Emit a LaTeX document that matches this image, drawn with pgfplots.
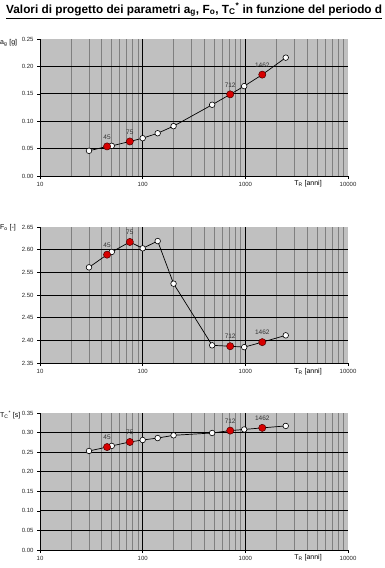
\documentclass[border=0pt]{standalone}
\usepackage{fontspec}
\setmainfont{Liberation Sans}
\usepackage{pgfplots}
\usepackage{pgfplotstable}
\pgfplotsset{compat=1.18}

\definecolor{bgc}{RGB}{192,192,192}
\definecolor{mgrid}{RGB}{128,128,128}
\definecolor{redfill}{RGB}{215,0,0}

\pgfplotstableread{
x y
30 0.046
45 0.054
50 0.055
75 0.063
100 0.069
140 0.078
200 0.091
475 0.130
712 0.149
975 0.164
1462 0.185
2475 0.216
}\agall
\pgfplotstableread{
x y
30 0.046
50 0.055
100 0.069
140 0.078
200 0.091
475 0.130
975 0.164
2475 0.216
}\agwhite
\pgfplotstableread{
x y lab
45 0.054 45
75 0.063 75
712 0.149 712
1462 0.185 1462
}\agred

\pgfplotstableread{
x y
30 2.561
45 2.589
50 2.595
75 2.617
100 2.603
140 2.619
200 2.525
475 2.389
712 2.387
975 2.385
1462 2.396
2475 2.411
}\foall
\pgfplotstableread{
x y
30 2.561
50 2.595
100 2.603
140 2.619
200 2.525
475 2.389
975 2.385
2475 2.411
}\fowhite
\pgfplotstableread{
x y lab
45 2.589 45
75 2.617 75
712 2.387 712
1462 2.396 1462
}\fored

\pgfplotstableread{
x y
30 0.253
45 0.263
50 0.266
75 0.276
100 0.281
140 0.286
200 0.293
475 0.299
712 0.305
975 0.308
1462 0.312
2475 0.317
}\tcall
\pgfplotstableread{
x y
30 0.253
50 0.266
100 0.281
140 0.286
200 0.293
475 0.299
975 0.308
2475 0.317
}\tcwhite
\pgfplotstableread{
x y lab
45 0.263 45
75 0.276 75
712 0.305 712
1462 0.312 1462
}\tcred

\pgfplotsset{
  every axis/.append style={
    scale only axis, width=308pt, height=137pt,
    xmin=10, xmax=10000,
    axis background/.style={fill=bgc},
    axis x line*=bottom, axis y line*=left,
    axis line style={black, line width=0.8pt},
    xtick={10,100,1000}, xticklabels={10,100,1000},
    minor xtick={20,30,40,50,60,70,80,90,200,300,400,500,600,700,800,900,2000,3000,4000,5000,6000,7000,8000,9000},
    grid=both,
    major grid style={black, line width=0.9pt},
    minor grid style={mgrid, line width=0.8pt},
    tick align=outside, major tick length=3pt, minor tick length=0pt,
    tick style={black, line width=0.6pt},
    ticklabel style={font=\fontsize{6}{7}\selectfont, text=black!85},
    yticklabel style={/pgf/number format/fixed, /pgf/number format/fixed zerofill, /pgf/number format/precision=2, /pgf/number format/assume math mode=true},
    clip=false,
  },
  lineplotsty/.style={black, line width=0.7pt, no marks},
  whiteptsty/.style={only marks, mark=*, mark size=2.8pt, mark options={fill=white, draw=black, line width=0.6pt}},
  redptsty/.style={only marks, mark=*, mark size=3.6pt, mark options={fill=redfill, draw=black!70!red, line width=0.5pt},
    nodes near coords, point meta=explicit symbolic,
    every node near coord/.append style={anchor=south, yshift=6pt, inner sep=1pt, font=\fontsize{6.5}{7}\selectfont, text=black!80}},
}

\begin{document}
\begin{tikzpicture}
\useasboundingbox (0,0) rectangle (384pt,-568pt);
\clip (0,0) rectangle (384pt,-568pt);
\fill[white] (0,0) rectangle (384pt,-568pt);

\node[anchor=base west, inner sep=0pt, font=\bfseries\fontsize{11.8}{13}\selectfont] at (6pt,-13pt)
  {\underline{Valori di progetto dei parametri a\textsubscript{g}, F\textsubscript{o}, T\textsubscript{C}\textsuperscript{*} in funzione del periodo d}};

% panel 1
\begin{axis}[xmode=log, at={(40pt,-39pt)}, anchor=north west,
  extra x ticks={10000}, extra x tick labels={10000},
  ymin=0, ymax=0.25, ytick={0,0.05,0.10,0.15,0.20}, extra y ticks={0.25}, extra tick style={grid=none}]
\addplot[lineplotsty] table[x=x,y=y] {\agall};
\addplot[whiteptsty] table[x=x,y=y] {\agwhite};
\addplot[redptsty] table[x=x,y=y,meta=lab] {\agred};
\end{axis}
\node[anchor=west, inner sep=0pt, font=\fontsize{7}{8}\selectfont] at (0pt,-43pt) {a\textsubscript{g} [g]};
\node[inner sep=0pt, font=\fontsize{7}{8}\selectfont] at (308pt,-184pt) {T\textsubscript{R} [anni]};

% panel 2
\begin{axis}[xmode=log, at={(40pt,-227pt)}, anchor=north west, height=136pt,
  extra x ticks={10000}, extra x tick labels={10000},
  ymin=2.35, ymax=2.65, ytick={2.35,2.40,2.45,2.50,2.55,2.60}, extra y ticks={2.65}, extra tick style={grid=none}]
\addplot[lineplotsty] table[x=x,y=y] {\foall};
\addplot[whiteptsty] table[x=x,y=y] {\fowhite};
\addplot[redptsty] table[x=x,y=y,meta=lab] {\fored};
\end{axis}
\node[anchor=west, inner sep=0pt, font=\fontsize{7}{8}\selectfont] at (0pt,-228pt) {F\textsubscript{o} [-]};
\node[inner sep=0pt, font=\fontsize{7}{8}\selectfont] at (308pt,-372pt) {T\textsubscript{R} [anni]};

% panel 3
\begin{axis}[xmode=log, at={(40pt,-413pt)}, anchor=north west,
  extra x ticks={10000}, extra x tick labels={10000},
  ymin=0, ymax=0.35, ytick={0,0.05,0.10,0.15,0.20,0.25,0.30}, extra y ticks={0.35}, extra tick style={grid=none}]
\addplot[lineplotsty] table[x=x,y=y] {\tcall};
\addplot[whiteptsty] table[x=x,y=y] {\tcwhite};
\addplot[redptsty] table[x=x,y=y,meta=lab] {\tcred};
\end{axis}
\node[anchor=west, inner sep=0pt, font=\fontsize{7}{8}\selectfont] at (0pt,-415pt) {T\textsubscript{C}\textsuperscript{*} [s]};
\node[inner sep=0pt, font=\fontsize{7}{8}\selectfont] at (308pt,-558pt) {T\textsubscript{R} [anni]};
\end{tikzpicture}
\end{document}
